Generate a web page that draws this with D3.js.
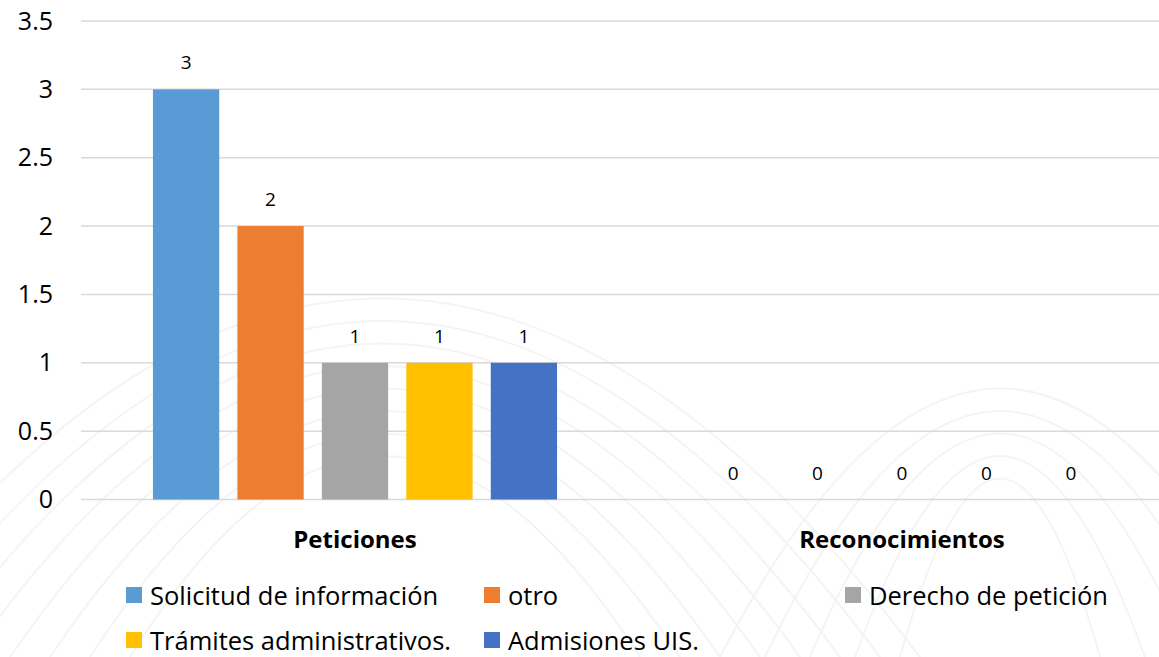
<!DOCTYPE html>
<html>
<head>
<meta charset="utf-8">
<script src="https://cdn.jsdelivr.net/npm/d3@7"></script>
<style>
  body { margin: 0; background: #fff; }
  svg { display: block; font-family: "Open Sans", "Noto Sans", sans-serif; }
</style>
</head>
<body>
<div id="chart"></div>
<script>
// data
var categories = ["Peticiones", "Reconocimientos"];
var seriesNames = ["Solicitud de información", "otro", "Derecho de petición", "Trámites administrativos.", "Admisiones UIS."];
var seriesColors = ["#5b9bd5", "#ed7d31", "#a5a5a5", "#ffc000", "#4472c4"];
var values = [
  [3, 0],   // Solicitud de información
  [2, 0],   // otro
  [1, 0],   // Derecho de petición
  [1, 0],   // Trámites administrativos.
  [1, 0]    // Admisiones UIS.
];
var yTicks = [0, 0.5, 1, 1.5, 2, 2.5, 3, 3.5];

var width = 1159, height = 657;

var svg = d3.select("#chart")
    .append("svg")
    .attr("width", width)
    .attr("height", height);

// faint watermark arcs in the background
var bg = svg.append("g").attr("fill", "none").attr("stroke", "#f4f4f4").attr("stroke-width", 2);
for (var k = 0; k < 8; k++) {
    bg.append("path")
        .attr("d", "M" + (-150 + k * 40) + "," + height + " Q" + 380 + "," + (-60 + k * 45) + " " + (920 - k * 40) + "," + height);
}
for (var k = 0; k < 5; k++) {
    bg.append("path")
        .attr("d", "M" + (720 + k * 45) + "," + height + " Q" + 1000 + "," + (120 + k * 45) + " " + (1280 - k * 45) + "," + height);
}

var x0 = d3.scaleBand()
    .domain(categories)
    .range([81.5, 1175.5]);

var x1 = d3.scaleBand()
    .domain(seriesNames)
    .range([-210.5, 210.5])
    .paddingInner(0.215)
    .paddingOuter(0.1);

var y = d3.scaleLinear()
    .domain([0, 3.5])
    .range([499.5, 21]);

// gridlines
svg.append("g")
    .selectAll("line")
    .data(yTicks)
    .enter()
    .append("line")
    .attr("x1", 81)
    .attr("x2", width)
    .attr("y1", function(d) { return y(d); })
    .attr("y2", function(d) { return y(d); })
    .attr("stroke", "#d9d9d9")
    .attr("stroke-width", 1.5);

// y axis labels
var yAxis = d3.axisLeft(y)
    .tickValues(yTicks)
    .tickSize(0)
    .tickPadding(0)
    .tickFormat(function(d) { return String(d); });

var yg = svg.append("g")
    .attr("transform", "translate(53,0)")
    .call(yAxis);
yg.select(".domain").remove();
yg.selectAll("text")
    .attr("font-size", 25)
    .attr("fill", "#000")
    .attr("font-family", "Open Sans, Noto Sans, sans-serif");

// bars
var groups = svg.append("g")
    .selectAll("g")
    .data(categories)
    .enter()
    .append("g")
    .attr("transform", function(d) { return "translate(" + (x0(d) + x0.bandwidth() / 2) + ",0)"; });

groups.each(function(cat, ci) {
    var g = d3.select(this);
    seriesNames.forEach(function(s, si) {
        var v = values[si][ci];
        g.append("rect")
            .attr("x", x1(s))
            .attr("y", y(v))
            .attr("width", x1.bandwidth())
            .attr("height", y(0) - y(v))
            .attr("fill", seriesColors[si]);

        g.append("text")
            .attr("x", x1(s) + x1.bandwidth() / 2)
            .attr("y", y(v) - 27)
            .attr("text-anchor", "middle")
            .attr("dominant-baseline", "central")
            .attr("font-size", 19)
            .attr("fill", "#000")
            .text(v);
    });
});

// category labels
svg.append("g")
    .selectAll("text")
    .data(categories)
    .enter()
    .append("text")
    .attr("x", function(d) { return x0(d) + x0.bandwidth() / 2; })
    .attr("y", 538)
    .attr("text-anchor", "middle")
    .attr("dominant-baseline", "central")
    .attr("font-size", 24)
    .attr("font-weight", "bold")
    .attr("fill", "#000")
    .text(function(d) { return d; });

// legend
var legendPos = [[126, 595], [484, 595], [845, 595], [126, 640], [484, 640]];
var legend = svg.append("g")
    .selectAll("g")
    .data(seriesNames)
    .enter()
    .append("g")
    .attr("transform", function(d, i) { return "translate(" + legendPos[i][0] + "," + legendPos[i][1] + ")"; });

legend.append("rect")
    .attr("x", 0)
    .attr("y", -8)
    .attr("width", 16)
    .attr("height", 16)
    .attr("fill", function(d, i) { return seriesColors[i]; });

legend.append("text")
    .attr("x", 24)
    .attr("y", 0)
    .attr("dominant-baseline", "central")
    .attr("font-size", 25.5)
    .attr("fill", "#000")
    .text(function(d) { return d; });
</script>
</body>
</html>
